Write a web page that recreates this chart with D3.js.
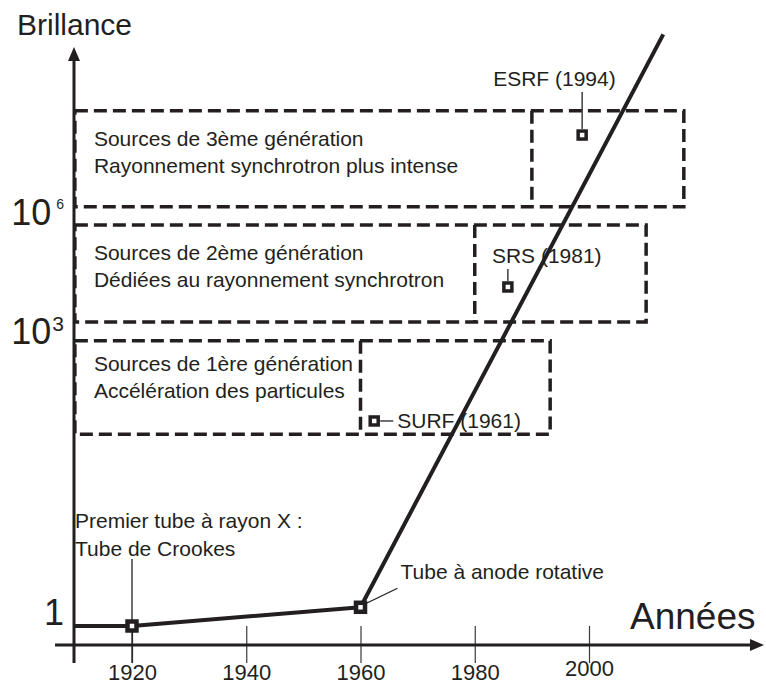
<!DOCTYPE html>
<html>
<head>
<meta charset="utf-8">
<script src="https://cdn.jsdelivr.net/npm/d3@7"></script>
<style>
  body { margin: 0; background: #fff; }
  text { font-family: "Liberation Sans", Arial, sans-serif; fill: #231f20; }
</style>
</head>
<body>
<svg id="chart" width="766" height="684"></svg>
<script>
// courbe : annees / brillance
var years = [1910, 1920, 1960, 2013];
var brillance = [1, 1, 1.55, 3e10];

// graduations
var xTicks = [1920, 1940, 1960, 1980, 2000];
var yLevels = [0, 3, 6];            // log10 de la brillance
var yLabels = ["1", "10", "10"];
var yExps = ["", "3", "6"];

// generations de sources (log10 brillance, annees)
var genLine1 = ["Sources de 1ère génération", "Sources de 2ème génération", "Sources de 3ème génération"];
var genLine2 = ["Accélération des particules", "Dédiées au rayonnement synchrotron", "Rayonnement synchrotron plus intense"];
var genStart = [1910, 1910, 1910];
var genSplit = [1960, 1980, 1990];
var genEnd = [1993.2, 2010, 2016.6];
var genLow = [1.95, 3.23, 6.13];
var genHigh = [2.9, 5.67, 8.55];

// sources synchrotron
var srcNames = ["SURF", "SRS", "ESRF"];
var srcYears = [1961, 1981, 1994];
var srcPos = [1962.4, 1985.8, 1998.8];   // position sur le dessin
var srcLog = [2.085, 4.11, 7.94];

var ink = "#231f20";
var svg = d3.select("#chart");

var x = d3.scaleLinear().domain([1920, 2000]).range([132, 589]);
// echelle schematique, par morceaux
var y = d3.scaleLinear().domain(yLevels).range([626, 331, 212]);
var axisX = 74, axisY = 645;

// boites en pointilles
var boxes = svg.append("g");
for (var i = 0; i < genLine1.length; i++) {
  var x0 = x(genStart[i]), x1 = x(genEnd[i]), y0 = y(genHigh[i]), y1 = y(genLow[i]);
  var ty = i === 0 ? 30 : 35;
  boxes.append("rect")
    .attr("x", x0).attr("y", y0)
    .attr("width", x1 - x0).attr("height", y1 - y0)
    .attr("fill", "none").attr("stroke", ink)
    .attr("stroke-width", 3.5).attr("stroke-dasharray", "13,6");
  boxes.append("line")
    .attr("x1", x(genSplit[i])).attr("x2", x(genSplit[i]))
    .attr("y1", y0).attr("y2", y1)
    .attr("stroke", ink).attr("stroke-width", 3.5).attr("stroke-dasharray", "13,6");
  boxes.append("text").attr("x", x0 + 19).attr("y", y0 + ty)
    .style("font-size", "21px").text(genLine1[i]);
  boxes.append("text").attr("x", x0 + 19).attr("y", y0 + ty + 27)
    .style("font-size", "21px").text(genLine2[i]);
}

// axe des x
var xAxis = d3.axisBottom(x).tickValues(xTicks).tickSizeInner(18).tickSizeOuter(0)
  .tickPadding(1).tickFormat(d3.format("d"));
var gx = svg.append("g").attr("transform", "translate(0," + axisY + ")").call(xAxis);
gx.select(".domain").remove();
gx.selectAll(".tick line").attr("y1", -19).attr("stroke", "#3a3a3a").attr("stroke-width", 1.2);
gx.selectAll(".tick text")
  .attr("fill", ink).style("font-size", "22px")
  .attr("font-family", null)
  .attr("transform", function (d) { return d === 2000 ? "translate(0,-4)" : null; });

svg.append("line").attr("x1", 55).attr("x2", 752).attr("y1", axisY).attr("y2", axisY)
  .attr("stroke", ink).attr("stroke-width", 3);
svg.append("path").attr("d", "M764," + axisY + "L750," + (axisY - 6) + "L750," + (axisY + 6) + "Z")
  .attr("fill", ink);

// axe des y
svg.append("line").attr("x1", axisX).attr("x2", axisX).attr("y1", 663).attr("y2", 58)
  .attr("stroke", ink).attr("stroke-width", 3);
svg.append("path").attr("d", "M" + axisX + ",47L" + (axisX - 6) + ",61L" + (axisX + 6) + ",61Z")
  .attr("fill", ink);

var yl = svg.append("g").selectAll("text").data(yLevels).enter().append("text")
  .attr("x", 64)
  .attr("y", function (d) { return d === 0 ? y(d) - 1 : y(d) + 13; })
  .attr("text-anchor", "end")
  .style("font-size", "36px");
yl.append("tspan").text(function (d, i) { return yLabels[i]; });
yl.append("tspan")
  .attr("dx", function (d, i) { return i === 2 ? 5 : 1; })
  .attr("dy", function (d, i) { return i === 2 ? -16 : -13; })
  .style("font-size", function (d, i) { return i === 2 ? "14px" : "21px"; })
  .text(function (d, i) { return yExps[i]; });

svg.append("text").attr("x", 17).attr("y", 35).style("font-size", "30px").text("Brillance");
svg.append("text").attr("x", 630).attr("y", 629).style("font-size", "37px").text("Années");

// courbe
var pts = years.map(function (d, i) { return [d, Math.log10(brillance[i])]; });
var line = d3.line().x(function (d) { return x(d[0]); }).y(function (d) { return y(d[1]); });
svg.append("path").datum(pts).attr("d", line)
  .attr("fill", "none").attr("stroke", ink).attr("stroke-width", 4).attr("stroke-linejoin", "round");

// annotations des tubes
var p1920 = [x(years[1]), y(Math.log10(brillance[1]))];
var p1960 = [x(years[2]), y(Math.log10(brillance[2]))];
svg.append("line").attr("x1", p1920[0]).attr("x2", p1920[0]).attr("y1", 559).attr("y2", 663)
  .attr("stroke", ink).attr("stroke-width", 1.3);
svg.append("text").attr("x", 75).attr("y", 528).style("font-size", "21px").text("Premier tube à rayon X :");
svg.append("text").attr("x", 75).attr("y", 556).style("font-size", "21px").text("Tube de Crookes");
svg.append("line").attr("x1", p1960[0] + 6).attr("y1", p1960[1] - 4)
  .attr("x2", p1960[0] + 37).attr("y2", p1960[1] - 19)
  .attr("stroke", ink).attr("stroke-width", 1.3);
svg.append("text").attr("x", p1960[0] + 40).attr("y", p1960[1] - 28)
  .style("font-size", "21px").text("Tube à anode rotative");

[p1920, p1960].forEach(function (p) {
  svg.append("rect").attr("x", p[0] - 4.5).attr("y", p[1] - 4.5).attr("width", 9).attr("height", 9)
    .attr("fill", "#fff").attr("stroke", ink).attr("stroke-width", 4.5);
});

// sources synchrotron
var src = svg.append("g");
srcNames.forEach(function (name, i) {
  var mx = x(srcPos[i]), my = y(srcLog[i]);
  var label = name + " (" + srcYears[i] + ")";
  if (i === 0) {
    src.append("line").attr("x1", mx + 6).attr("x2", mx + 19).attr("y1", my).attr("y2", my)
      .attr("stroke", ink).attr("stroke-width", 1.3);
    src.append("text").attr("x", mx + 23).attr("y", my + 7).style("font-size", "21px").text(label);
  } else if (i === 1) {
    src.append("line").attr("x1", mx).attr("x2", mx).attr("y1", my - 6).attr("y2", my - 18)
      .attr("stroke", ink).attr("stroke-width", 1.3);
    src.append("text").attr("x", mx - 16).attr("y", my - 24).style("font-size", "21px").text(label);
  } else {
    src.append("line").attr("x1", mx).attr("x2", mx).attr("y1", my - 6).attr("y2", my - 43)
      .attr("stroke", ink).attr("stroke-width", 1.3);
    src.append("text").attr("x", mx - 89).attr("y", my - 49).style("font-size", "21px").text(label);
  }
  src.append("rect").attr("x", mx - 4).attr("y", my - 4).attr("width", 8).attr("height", 8)
    .attr("fill", "#fff").attr("stroke", ink).attr("stroke-width", 3.5);
});
</script>
</body>
</html>
